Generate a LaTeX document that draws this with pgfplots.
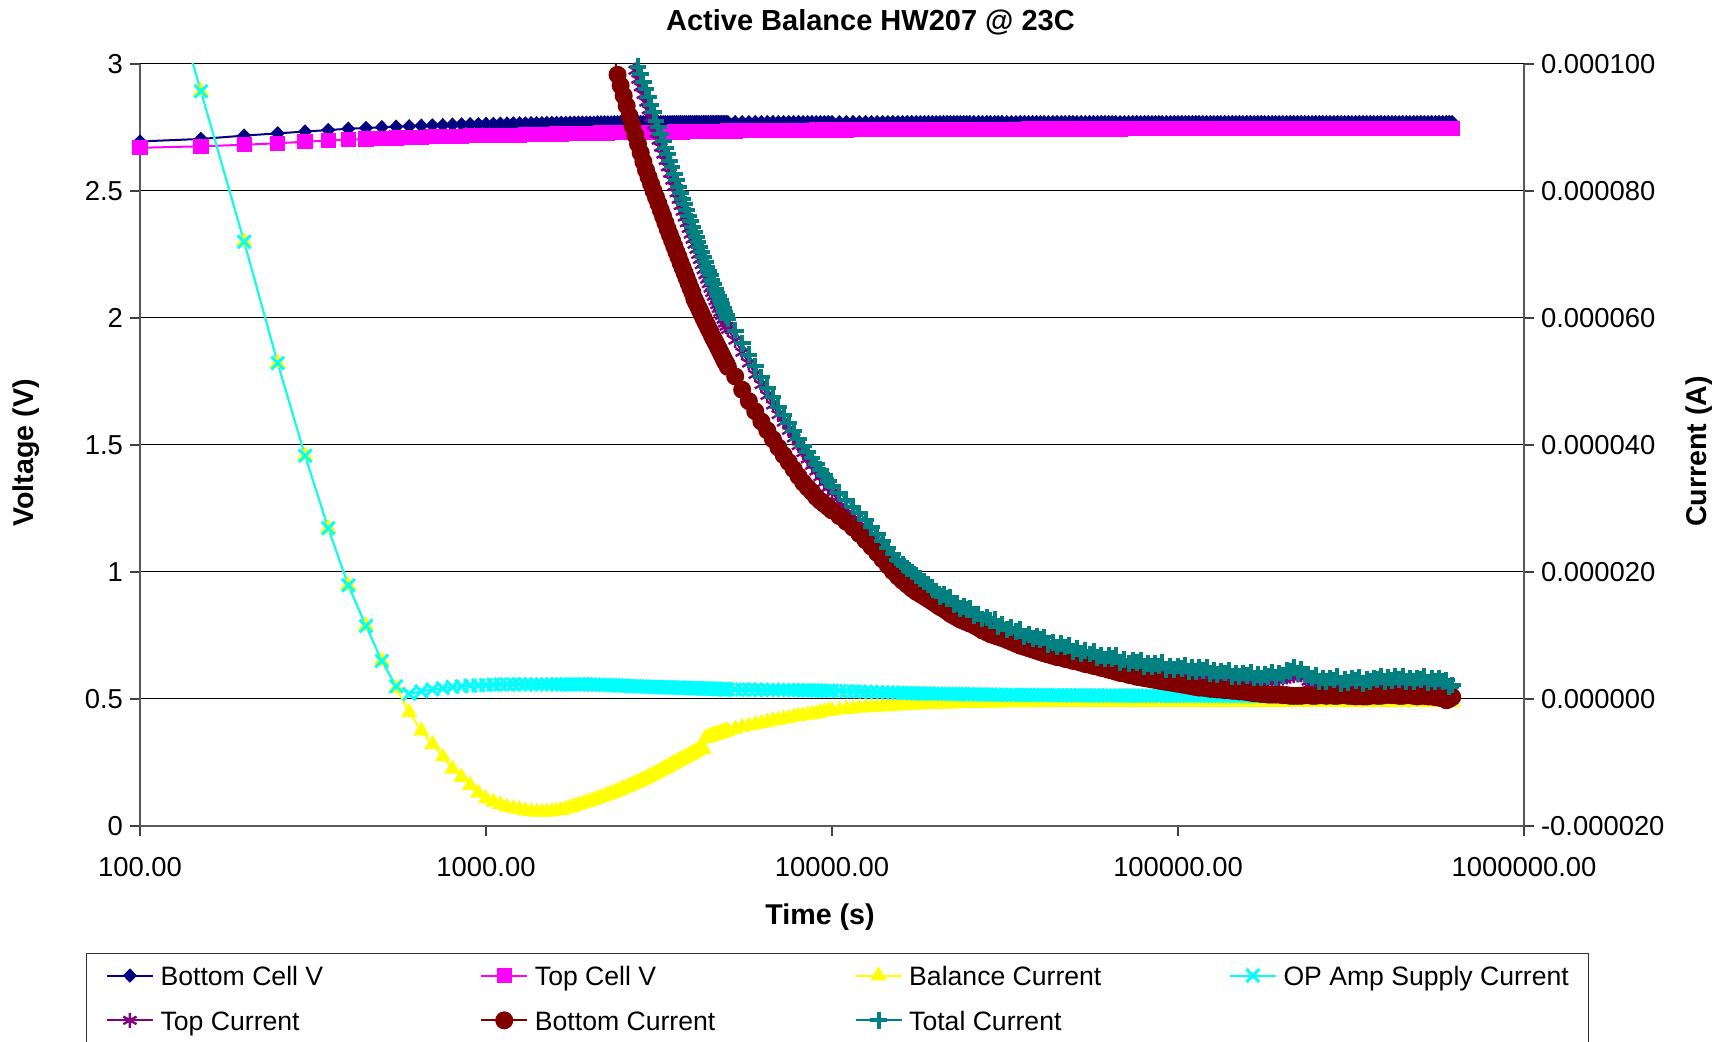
\documentclass[border=0pt]{standalone}
\usepackage{fontspec}
\setmainfont{Liberation Sans}
\usepackage{pgfplots}
\usepackage{pgfplotstable}
\pgfplotsset{compat=1.18}

\definecolor{cNavy}{RGB}{0,0,128}
\definecolor{cMagenta}{RGB}{255,0,255}
\definecolor{cYellow}{RGB}{255,255,0}
\definecolor{cCyan}{RGB}{0,255,255}
\definecolor{cPurple}{RGB}{128,0,128}
\definecolor{cDarkRed}{RGB}{128,0,0}
\definecolor{cTeal}{RGB}{0,128,128}

% t in s, cell voltages in V, currents in microamps
\pgfplotstableread{
t vb vt ibal iop itop ibot itot
100 2.695 2.670 129.0 129.0 nan nan nan
150 2.705 2.676 95.7 95.7 nan nan nan
200 2.718 2.682 72.0 72.0 nan nan nan
250 2.727 2.688 52.9 52.9 nan nan nan
300 2.734 2.694 38.3 38.3 nan nan nan
350 2.740 2.699 26.9 26.9 nan nan nan
400 2.745 2.702 17.9 17.9 nan nan nan
450 2.748 2.705 11.5 11.5 nan nan nan
500 2.751 2.707 6.0 6.0 nan nan nan
550 2.753 2.709 1.7 2.0 nan nan nan
600 2.755 2.710 -2.1 0.8 nan nan nan
650 2.757 2.712 -5.0 1.2 nan nan nan
700 2.758 2.713 -7.1 1.5 nan nan nan
750 2.759 2.714 -9.1 1.7 nan nan nan
800 2.761 2.715 -11.0 1.9 nan nan nan
850 2.762 2.716 -12.3 2.0 nan nan nan
900 2.763 2.717 -13.6 2.1 nan nan nan
950 2.763 2.717 -14.8 2.15 nan nan nan
1000 2.764 2.718 -15.7 2.2 nan nan nan
1050 2.764 2.718 -16.2 2.25 nan nan nan
1100 2.765 2.719 -16.6 2.3 nan nan nan
1150 2.765 2.719 -17.0 2.3 nan nan nan
1200 2.766 2.720 -17.2 2.3 nan nan nan
1250 2.766 2.720 -17.4 2.3 nan nan nan
1300 2.766 2.721 -17.6 2.3 nan nan nan
1350 2.767 2.721 -17.7 2.3 nan nan nan
1400 2.767 2.722 -17.8 2.3 nan nan nan
1450 2.767 2.722 -17.8 2.3 nan nan nan
1500 2.768 2.723 -17.8 2.3 nan nan nan
1550 2.768 2.723 -17.7 2.3 nan nan nan
1600 2.768 2.724 -17.6 2.3 nan nan nan
1650 2.768 2.724 -17.5 2.3 nan nan nan
1700 2.768 2.725 -17.3 2.3 nan nan nan
1750 2.769 2.725 -17.1 2.3 nan nan nan
1800 2.769 2.725 -16.9 2.3 nan nan nan
1850 2.769 2.726 -16.7 2.3 nan nan nan
1900 2.769 2.726 -16.5 2.3 nan nan nan
1950 2.769 2.726 -16.3 2.3 nan nan nan
2000 2.769 2.727 -16.1 2.3 nan nan nan
2050 2.769 2.727 -15.9 2.28 nan nan nan
2100 2.770 2.727 -15.7 2.26 nan nan nan
2150 2.770 2.728 -15.5 2.24 nan nan nan
2200 2.770 2.728 -15.3 2.22 nan nan nan
2250 2.770 2.728 -15.1 2.20 nan nan nan
2300 2.770 2.729 -14.9 2.18 nan 106.0 nan
2350 2.771 2.729 -14.7 2.16 nan 101.2 nan
2400 2.771 2.729 -14.5 2.14 nan 98.3 nan
2450 2.771 2.730 -14.3 2.12 nan 96.6 nan
2500 2.771 2.730 -14.1 2.10 nan 95.0 nan
2550 2.771 2.730 -13.9 2.08 103.5 93.4 105.5
2600 2.771 2.730 -13.7 2.06 102.0 91.8 104.0
2650 2.771 2.730 -13.5 2.04 100.5 90.3 102.5
2700 2.771 2.730 -13.3 2.02 99.0 88.8 101.0
2750 2.771 2.730 -13.1 2.00 97.6 87.4 99.6
2800 2.771 2.730 -12.9 1.98 96.4 86.0 98.4
2850 2.771 2.730 -12.7 1.96 95.2 84.6 97.2
2900 2.771 2.730 -12.5 1.94 94.0 83.3 96.0
2950 2.771 2.730 -12.3 1.92 92.8 82.2 94.8
3000 2.771 2.731 -12.1 1.90 91.6 81.1 93.6
3050 2.771 2.731 -11.9 1.89 90.4 80.0 92.4
3100 2.771 2.731 -11.7 1.88 89.1 79.0 91.1
3150 2.771 2.731 -11.5 1.87 88.0 78.0 90.0
3200 2.771 2.731 -11.3 1.86 86.9 77.0 88.9
3250 2.771 2.731 -11.1 1.85 85.8 76.0 87.8
3300 2.771 2.731 -10.9 1.84 84.8 75.0 86.8
3350 2.771 2.731 -10.7 1.83 83.8 74.0 85.8
3400 2.771 2.731 -10.5 1.82 82.8 73.1 84.8
3450 2.771 2.731 -10.3 1.81 81.7 72.2 83.7
3500 2.771 2.732 -10.1 1.80 80.7 71.3 82.7
3550 2.771 2.732 -9.9 1.79 79.7 70.4 81.7
3600 2.771 2.732 -9.8 1.78 78.7 69.6 80.7
3650 2.771 2.732 -9.6 1.77 77.7 68.7 79.7
3700 2.771 2.732 -9.4 1.76 76.8 67.9 78.8
3750 2.771 2.733 -9.3 1.75 75.9 67.1 77.9
3800 2.771 2.733 -9.1 1.74 75.0 66.3 77.0
3850 2.771 2.733 -8.9 1.73 74.1 65.5 76.1
3900 2.771 2.733 -8.8 1.72 73.2 64.7 75.2
3950 2.771 2.733 -8.6 1.71 72.4 64.0 74.4
4000 2.771 2.734 -8.4 1.70 71.6 63.0 73.6
4050 2.771 2.734 -8.3 1.69 70.8 62.4 72.8
4100 2.771 2.734 -8.1 1.68 70.0 61.8 72.0
4150 2.771 2.734 -8.0 1.67 69.2 61.2 71.2
4200 2.771 2.734 -7.9 1.66 68.4 60.6 70.4
4250 2.771 2.734 -7.8 1.65 67.6 60.0 69.6
4300 2.771 2.734 -6.2 1.64 66.8 59.4 68.8
4350 2.771 2.734 -6.1 1.63 66.1 58.9 68.1
4400 2.771 2.734 -6.0 1.62 65.4 58.3 67.4
4450 2.771 2.734 -5.9 1.61 64.7 57.8 66.7
4500 2.771 2.735 -5.8 1.60 64.0 57.2 66.0
4550 2.771 2.735 -5.7 1.59 63.4 56.7 65.3
4600 2.771 2.735 -5.6 1.58 62.7 56.2 64.6
4650 2.771 2.735 -5.6 1.57 62.1 55.7 64.0
4700 2.771 2.735 -5.5 1.56 61.5 55.2 63.4
4750 2.771 2.735 -5.4 1.55 60.9 54.7 62.8
4800 2.771 2.735 -5.3 1.54 60.4 54.2 62.2
4850 2.771 2.735 -5.2 1.53 59.8 53.7 61.6
4900 2.771 2.735 -5.2 1.52 59.2 53.2 61.0
4950 2.771 2.735 -5.1 1.51 58.7 52.8 60.4
5000 2.771 2.736 -5.0 1.50 58.2 52.3 59.9
5250 2.771 2.736 -4.7 1.49 56.5 50.8 58.0
5500 2.771 2.737 -4.4 1.48 54.6 48.7 56.0
5750 2.771 2.737 -4.2 1.47 52.9 46.9 54.2
6000 2.771 2.737 -4.0 1.46 51.1 45.3 52.4
6250 2.771 2.737 -3.8 1.45 49.5 43.7 50.7
6500 2.771 2.738 -3.6 1.44 47.8 42.3 49.0
6750 2.771 2.738 -3.4 1.43 46.3 40.9 47.5
7000 2.771 2.738 -3.3 1.42 44.8 39.6 46.0
7250 2.771 2.738 -3.1 1.41 43.6 38.4 44.7
7500 2.771 2.739 -3.0 1.40 42.3 37.3 43.4
7750 2.771 2.739 -2.8 1.39 41.1 36.2 42.2
8000 2.771 2.739 -2.7 1.38 39.9 35.1 41.0
8250 2.771 2.739 -2.6 1.37 38.8 34.1 39.9
8500 2.771 2.739 -2.5 1.36 37.8 33.3 38.9
8750 2.771 2.739 -2.4 1.35 36.8 32.6 37.9
9000 2.771 2.740 -2.3 1.34 35.9 31.8 37.0
9250 2.771 2.740 -2.1 1.33 35.0 31.2 36.1
9500 2.771 2.740 -2.0 1.32 34.1 30.7 35.2
9750 2.771 2.740 -1.9 1.31 33.3 30.2 34.4
10000 2.771 2.740 -1.8 1.30 32.5 29.7 33.6
10500 2.771 2.740 -1.7 1.27 31.0 28.8 32.5
11000 2.771 2.740 -1.6 1.24 29.9 27.9 31.4
11500 2.771 2.741 -1.5 1.21 28.9 27.0 30.3
12000 2.771 2.741 -1.4 1.18 27.9 26.0 29.3
12500 2.771 2.741 -1.35 1.15 26.8 25.0 28.2
13000 2.771 2.741 -1.3 1.12 25.7 24.0 27.1
13500 2.771 2.741 -1.25 1.09 24.6 23.0 26.0
14000 2.771 2.741 -1.2 1.06 23.6 22.0 24.9
14500 2.771 2.741 -1.15 1.03 22.6 21.0 23.8
15000 2.771 2.741 -1.1 1.00 21.8 20.1 22.8
15500 2.771 2.742 -1.05 0.98 21.0 19.3 21.9
16000 2.771 2.742 -1.0 0.96 20.3 18.6 21.2
16500 2.771 2.742 -0.97 0.94 19.7 18.0 20.6
17000 2.771 2.742 -0.94 0.92 19.1 17.4 20.0
17500 2.771 2.742 -0.91 0.90 18.6 16.9 19.5
18000 2.771 2.742 -0.88 0.88 18.1 16.5 19.0
18500 2.771 2.742 -0.85 0.87 17.6 16.1 18.5
19000 2.771 2.742 -0.82 0.86 17.1 15.7 18.0
19500 2.771 2.742 -0.80 0.85 16.6 15.3 17.5
20000 2.771 2.742 -0.78 0.84 16.2 14.9 17.0
20500 2.771 2.742 -0.77 0.83 15.8 14.5 16.2
21000 2.771 2.742 -0.75 0.82 15.4 14.2 16.4
21500 2.771 2.742 -0.73 0.81 15.1 13.8 15.8
22000 2.771 2.742 -0.72 0.80 14.8 13.4 16.0
22500 2.771 2.742 -0.70 0.79 14.5 13.1 14.8
23000 2.771 2.743 -0.69 0.78 14.2 12.8 15.1
23500 2.771 2.743 -0.67 0.77 13.9 12.5 14.3
24000 2.771 2.743 -0.66 0.76 13.6 12.3 14.6
24500 2.771 2.743 -0.64 0.75 13.4 12.1 14.1
25000 2.771 2.743 -0.63 0.74 13.1 11.9 14.3
25700 2.771 2.743 -0.62 0.73 12.8 11.6 13.1
26500 2.771 2.743 -0.60 0.72 12.5 11.2 13.4
27200 2.771 2.743 -0.59 0.71 12.2 10.8 12.6
28000 2.771 2.743 -0.58 0.70 11.8 10.5 12.8
28700 2.771 2.743 -0.57 0.69 11.6 10.2 12.3
29500 2.771 2.743 -0.56 0.68 11.3 10.0 12.5
30200 2.771 2.743 -0.56 0.67 11.1 9.8 11.4
31000 2.771 2.743 -0.55 0.66 10.9 9.6 11.8
32000 2.771 2.743 -0.55 0.66 10.5 9.3 10.9
33000 2.771 2.743 -0.54 0.65 10.2 9.0 11.2
34000 2.771 2.743 -0.54 0.65 9.9 8.7 10.6
35000 2.771 2.743 -0.53 0.64 9.7 8.4 10.9
36000 2.771 2.743 -0.53 0.64 9.5 8.2 9.8
37000 2.771 2.744 -0.52 0.63 9.3 8.0 10.2
38000 2.771 2.744 -0.52 0.63 9.1 7.8 9.5
39000 2.771 2.744 -0.51 0.62 8.9 7.6 9.9
40000 2.771 2.744 -0.51 0.62 8.7 7.4 9.4
41000 2.771 2.744 -0.50 0.61 8.5 7.2 9.7
42200 2.771 2.744 -0.50 0.61 8.3 7.0 8.6
43500 2.771 2.744 -0.50 0.60 8.0 6.8 8.9
44700 2.771 2.744 -0.50 0.60 7.8 6.6 8.2
46000 2.771 2.744 -0.50 0.59 7.7 6.5 8.7
47200 2.771 2.744 -0.50 0.59 7.5 6.3 8.2
48500 2.771 2.744 -0.50 0.58 7.3 6.2 8.5
49700 2.771 2.744 -0.50 0.58 7.1 6.0 7.4
51000 2.771 2.744 -0.50 0.57 7.0 5.9 7.9
52500 2.771 2.744 -0.50 0.57 6.8 5.7 7.2
54000 2.771 2.744 -0.50 0.56 6.6 5.5 7.6
55500 2.771 2.744 -0.50 0.56 6.4 5.4 7.1
57000 2.771 2.744 -0.50 0.55 6.3 5.2 7.5
58500 2.771 2.744 -0.50 0.55 6.2 5.1 6.5
60000 2.771 2.744 -0.50 0.55 6.0 4.9 6.9
61500 2.771 2.744 -0.50 0.54 5.9 4.8 6.3
63000 2.771 2.744 -0.50 0.54 5.8 4.6 6.8
64500 2.771 2.744 -0.50 0.54 5.7 4.5 6.4
66000 2.771 2.744 -0.50 0.54 5.6 4.3 6.8
68000 2.771 2.744 -0.50 0.53 5.4 4.1 5.7
70000 2.771 2.745 -0.50 0.53 5.3 4.0 6.2
72000 2.771 2.745 -0.50 0.53 5.2 3.8 5.6
74000 2.771 2.745 -0.50 0.53 5.1 3.7 6.1
76000 2.771 2.745 -0.50 0.52 5.0 3.5 5.7
78000 2.771 2.745 -0.50 0.52 4.9 3.4 6.1
80000 2.771 2.745 -0.50 0.52 4.8 3.3 5.1
82000 2.771 2.745 -0.50 0.52 4.7 3.2 5.6
84000 2.771 2.745 -0.50 0.51 4.7 3.1 5.1
86000 2.771 2.745 -0.50 0.51 4.6 3.0 5.6
88000 2.771 2.745 -0.50 0.51 4.5 2.9 5.2
90000 2.771 2.745 -0.50 0.51 4.5 2.8 5.7
92500 2.771 2.745 -0.50 0.50 4.4 2.7 4.7
95000 2.771 2.745 -0.50 0.50 4.3 2.6 5.2
97500 2.771 2.745 -0.50 0.50 4.3 2.5 4.7
100000 2.771 2.745 -0.50 0.50 4.2 2.4 5.2
102500 2.771 2.745 -0.50 0.50 4.1 2.3 4.8
105000 2.771 2.745 -0.50 0.50 4.1 2.2 5.3
107500 2.771 2.745 -0.50 0.49 4.0 2.1 4.3
110000 2.771 2.745 -0.50 0.49 4.0 2.0 4.9
112500 2.771 2.745 -0.50 0.49 3.9 1.9 4.3
115000 2.771 2.745 -0.50 0.49 3.9 1.8 4.9
118000 2.771 2.745 -0.50 0.49 3.8 1.8 4.5
121000 2.771 2.745 -0.50 0.49 3.7 1.7 4.9
124000 2.771 2.745 -0.50 0.48 3.7 1.6 4.0
127000 2.771 2.745 -0.50 0.48 3.6 1.6 4.5
130000 2.771 2.745 -0.50 0.48 3.5 1.5 3.9
133000 2.771 2.745 -0.50 0.48 3.4 1.5 4.4
136500 2.771 2.745 -0.50 0.48 3.4 1.4 4.1
140000 2.771 2.745 -0.50 0.47 3.3 1.4 4.5
143500 2.771 2.745 -0.50 0.47 3.2 1.3 3.5
147000 2.771 2.745 -0.50 0.47 3.2 1.3 4.1
150500 2.771 2.745 -0.50 0.47 3.1 1.2 3.5
154000 2.771 2.745 -0.50 0.47 3.1 1.2 4.1
158000 2.771 2.745 -0.50 0.46 3.0 1.1 3.7
162000 2.771 2.745 -0.50 0.46 3.0 1.0 4.2
166000 2.771 2.745 -0.50 0.46 3.0 0.9 3.3
170000 2.771 2.745 -0.50 0.46 2.9 0.9 3.8
174000 2.771 2.745 -0.50 0.46 2.9 0.8 3.3
178000 2.771 2.745 -0.50 0.46 2.9 0.8 3.9
182500 2.771 2.745 -0.50 0.45 2.9 0.7 3.6
187000 2.771 2.745 -0.50 0.45 3.0 0.7 4.2
191500 2.771 2.745 -0.50 0.45 3.1 0.7 3.4
196000 2.771 2.745 -0.50 0.45 3.2 0.7 4.1
201000 2.771 2.745 -0.50 0.45 3.3 0.6 3.7
206000 2.771 2.745 -0.50 0.45 3.5 0.6 4.5
211000 2.771 2.745 -0.50 0.45 3.6 0.5 4.3
216000 2.771 2.745 -0.50 0.45 3.7 0.5 4.9
221500 2.771 2.745 -0.50 0.44 3.8 0.5 4.1
227000 2.771 2.745 -0.50 0.44 3.8 0.5 4.7
232500 2.771 2.745 -0.50 0.44 3.4 0.6 3.8
238000 2.771 2.745 -0.50 0.44 2.8 0.6 3.8
244000 2.771 2.745 -0.50 0.44 2.6 0.5 3.3
250000 2.771 2.745 -0.50 0.44 2.5 0.5 3.7
256000 2.771 2.745 -0.50 0.44 2.5 0.6 2.8
262000 2.771 2.745 -0.50 0.44 2.4 0.6 3.3
268500 2.771 2.745 -0.50 0.43 2.4 0.5 2.8
275000 2.771 2.745 -0.50 0.43 2.3 0.6 3.3
282000 2.771 2.745 -0.50 0.43 2.3 0.5 3.0
289000 2.771 2.745 -0.50 0.43 2.3 0.5 3.5
296000 2.771 2.745 -0.50 0.43 2.2 0.6 2.5
303000 2.771 2.745 -0.50 0.43 2.2 0.6 3.1
310500 2.771 2.745 -0.50 0.43 2.2 0.5 2.6
318000 2.771 2.745 -0.50 0.43 2.3 0.5 3.3
326000 2.771 2.745 -0.50 0.43 2.2 0.4 2.9
334000 2.771 2.745 -0.50 0.43 2.2 0.5 3.4
342500 2.771 2.745 -0.50 0.42 2.2 0.4 2.5
351000 2.771 2.745 -0.50 0.42 2.2 0.4 3.1
359500 2.771 2.745 -0.50 0.42 2.3 0.5 2.7
368000 2.771 2.745 -0.50 0.42 2.3 0.6 3.3
377000 2.771 2.745 -0.50 0.42 2.4 0.5 3.1
386000 2.771 2.745 -0.50 0.42 2.4 0.5 3.6
395500 2.771 2.745 -0.50 0.42 2.5 0.6 2.8
405000 2.771 2.745 -0.50 0.42 2.5 0.7 3.4
415000 2.771 2.745 -0.50 0.42 2.5 0.6 2.9
425000 2.771 2.745 -0.50 0.42 2.5 0.6 3.5
435500 2.771 2.745 -0.50 0.42 2.4 0.5 3.1
446000 2.771 2.745 -0.50 0.42 2.4 0.5 3.6
457000 2.771 2.745 -0.50 0.41 2.4 0.6 2.7
468000 2.771 2.745 -0.50 0.41 2.4 0.6 3.3
479500 2.771 2.745 -0.50 0.41 2.3 0.5 2.7
491000 2.771 2.745 -0.50 0.41 2.3 0.4 3.3
503000 2.771 2.745 -0.50 0.41 2.4 0.5 3.1
515000 2.771 2.745 -0.50 0.41 2.4 0.5 3.6
528000 2.771 2.745 -0.50 0.41 2.3 0.4 2.6
541000 2.771 2.745 -0.50 0.41 2.3 0.4 3.2
554500 2.771 2.745 -0.50 0.40 2.3 0.3 2.7
568000 2.771 2.745 -0.50 0.40 2.2 0.2 3.2
582000 2.771 2.745 -0.50 0.40 2.1 0.1 2.8
596000 2.771 2.745 -0.50 0.40 1.8 -0.2 3.0
608000 2.771 2.745 -0.50 0.40 1.6 0.0 1.9
620000 2.771 2.745 -0.50 0.40 1.3 0.3 2.2
}\hwdata

% series appearance
\tikzset{
  bottomV/.style={color=cNavy, line width=1pt, mark=diamond*, mark size=2.9pt,
    mark options={solid, xscale=1.3}},
  topV/.style={color=cMagenta, line width=1pt, mark=square*, mark size=3.3pt,
    mark options={solid}},
  balI/.style={color=cYellow, line width=1pt, mark=triangle*, mark size=3.7pt,
    mark options={solid}},
  opI/.style={color=cCyan, line width=1pt, mark=x, mark size=4.5pt,
    mark options={solid, line width=1.5pt}},
  topI/.style={color=cPurple, line width=1pt, mark=asterisk, mark size=3.8pt,
    mark options={solid, line width=1.2pt}},
  botI/.style={color=cDarkRed, line width=1pt, mark=*, mark size=4pt,
    mark options={solid}},
  totI/.style={color=cTeal, line width=1pt, mark=+, mark size=4.2pt,
    mark options={solid, line width=2pt}},
}

\newcommand{\legtext}[1]{\hspace*{3.35pt}\makebox[159.8pt][l]{#1}}

\begin{document}
\begin{tikzpicture}
% voltage axis (left)
\begin{axis}[
  name=ax,
  scale only axis, width=692pt, height=381pt,
  xmode=log, xmin=100, xmax=1000000,
  xtick={100,1000,10000,100000,1000000},
  xminorticks=false,
  tick align=outside, major tick length=5pt,
  tick style={black!75, line width=0.75pt},
  axis line style={black!65, line width=1pt},
  tick label style={font=\fontsize{13.7}{16}\selectfont},
  label style={font=\fontsize{14.3}{17}\selectfont\bfseries},
  axis x line*=bottom, axis y line*=left,
  ymin=0, ymax=3,
  ytick={0,0.5,1,1.5,2,2.5,3},
  yticklabels={0,0.5,1,1.5,2,2.5,3},
  xticklabels={100.00,1000.00,10000.00,100000.00,1000000.00},
  xticklabel style={yshift=-7pt},
  ymajorgrids, major grid style={black, line width=0.5pt},
  xlabel={Time (s)}, ylabel={Voltage (V)},
  xlabel style={at={(axis description cs:0.4913,-0.1197)}, anchor=center},
  ylabel style={at={(axis description cs:-0.0824,0.4895)}, anchor=center},
  title={Active Balance HW207 @ 23C},
  title style={at={(axis description cs:0.5278,1.0388)}, anchor=center,
    font=\fontsize{14.5}{17}\selectfont\bfseries},
]
\addplot[bottomV] table[x=t, y=vb] {\hwdata};
\addplot[topV] table[x=t, y=vt] {\hwdata};
\end{axis}

% current axis (right), in microamps
\begin{axis}[
  scale only axis, width=692pt, height=381pt,
  xmode=log, xmin=100, xmax=1000000,
  xtick={100,1000,10000,100000,1000000},
  xminorticks=false,
  tick align=outside, major tick length=5pt,
  tick style={black!75, line width=0.75pt},
  axis line style={black!65, line width=1pt},
  tick label style={font=\fontsize{13.7}{16}\selectfont},
  label style={font=\fontsize{14.3}{17}\selectfont\bfseries},
  axis x line=none, axis y line*=right,
  ymin=-20, ymax=100,
  ytick={-20,0,20,40,60,80,100},
  yticklabels={-0.000020,0.000000,0.000020,0.000040,0.000060,0.000080,0.000100},
  ylabel={Current (A)},
  ylabel style={at={(axis description cs:1.1264,0.4915)}, anchor=center},
  legend columns=4, legend cell align=left,
  legend style={at={(axis description cs:-0.0390,-0.167)}, anchor=north west,
    draw=black!80, inner xsep=9.75pt, inner ysep=3.8pt,
    font=\fontsize{13.3}{16}\selectfont,
    nodes={inner sep=0pt, text height=12pt, text depth=2.3pt},
    /tikz/row sep=8.1pt},
  legend image code/.code={\draw[mark repeat=2, mark phase=2, #1]
    plot coordinates {(0pt,0pt) (11.5pt,0pt) (23pt,0pt)};},
]
\addlegendimage{bottomV}
\addlegendentry{\legtext{Bottom Cell V}}
\addlegendimage{topV}
\addlegendentry{\legtext{Top Cell V}}
\addplot[balI] table[x=t, y=ibal] {\hwdata};
\addlegendentry{\legtext{Balance Current}}
\addplot[opI] table[x=t, y=iop] {\hwdata};
\addlegendentry{\hspace*{3.35pt}OP Amp Supply Current}
\addplot[topI] table[x=t, y=itop] {\hwdata};
\addlegendentry{\legtext{Top Current}}
\addplot[botI] table[x=t, y=ibot] {\hwdata};
\addlegendentry{\legtext{Bottom Current}}
\addplot[totI] table[x=t, y=itot] {\hwdata};
\addlegendentry{\legtext{Total Current}}
\end{axis}

\pgfresetboundingbox
\path[use as bounding box] ([shift={(-70pt,-108pt)}]ax.south west)
  rectangle ([shift={(101.5pt,32pt)}]ax.north east);
\end{tikzpicture}
\end{document}
